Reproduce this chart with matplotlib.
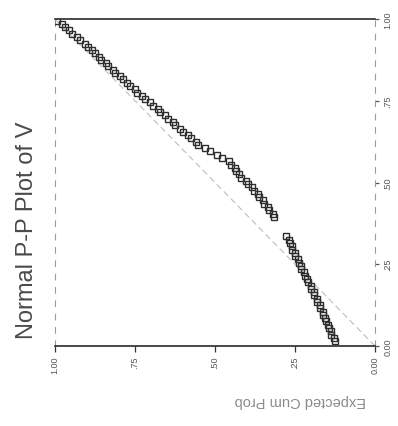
import matplotlib
matplotlib.use("Agg")
import matplotlib.pyplot as plt

plt.rcParams['font.family'] = ['Liberation Sans', 'DejaVu Sans']

# Normal P-P plot of V, drawn turned a quarter turn (Expected along the bottom, Observed on the right)
observed = [
    0.995, 0.985, 0.975, 0.965, 0.955, 0.945, 0.935, 0.925,
    0.915, 0.905, 0.895, 0.885, 0.875, 0.865, 0.855, 0.845, 0.835, 0.825, 0.815, 0.805,
    0.795, 0.785, 0.775, 0.765, 0.755, 0.745, 0.735, 0.725, 0.715, 0.705, 0.695, 0.685,
    0.675, 0.665, 0.655, 0.645, 0.635, 0.625, 0.615,
    0.605, 0.595, 0.585, 0.575, 0.565,
    0.555, 0.545, 0.535, 0.525,
    0.515, 0.505, 0.495, 0.485,
    0.475, 0.465, 0.455, 0.445, 0.435, 0.425, 0.415, 0.405, 0.395,
    0.336, 0.325, 0.315, 0.305, 0.295, 0.285, 0.275, 0.265, 0.255, 0.245, 0.235,
    0.225, 0.215, 0.205, 0.195, 0.185, 0.175,
    0.165, 0.155, 0.145, 0.135, 0.125, 0.115, 0.105, 0.095, 0.085, 0.075, 0.065,
    0.055, 0.045, 0.035, 0.025, 0.015,
]
expected = [
    0.994, 0.979, 0.970, 0.955, 0.946, 0.930, 0.921, 0.905,
    0.898, 0.883, 0.876, 0.862, 0.855, 0.840, 0.833, 0.818, 0.811, 0.796, 0.789, 0.774,
    0.767, 0.751, 0.743, 0.727, 0.719, 0.703, 0.695, 0.679, 0.671, 0.656, 0.648, 0.632,
    0.624, 0.608, 0.600, 0.584, 0.576, 0.560, 0.553,
    0.532, 0.516, 0.493, 0.478, 0.455,
    0.449, 0.438, 0.435, 0.424,
    0.419, 0.404, 0.398, 0.384,
    0.379, 0.367, 0.363, 0.351, 0.347, 0.335, 0.331, 0.319, 0.315,
    0.277, 0.268, 0.267, 0.259, 0.258, 0.249, 0.249, 0.240, 0.239, 0.230, 0.230,
    0.221, 0.220, 0.211, 0.210, 0.201, 0.200,
    0.191, 0.190, 0.182, 0.181, 0.173, 0.172, 0.164, 0.163, 0.155, 0.154, 0.146,
    0.145, 0.137, 0.136, 0.128, 0.125,
]

tick_values = [1.0, 0.75, 0.5, 0.25, 0.0]
tick_labels = ["1.00", ".75", ".50", ".25", "0.00"]

W, H = 398, 427
fig = plt.figure(figsize=(W / 100, H / 100), dpi=100)
ax = fig.add_axes([55 / W, 80 / H, 320 / W, 327 / H])

ax.set_xlim(1.0, 0.0)
ax.set_ylim(0.0, 1.0)

# diagonal reference line
ax.plot([0, 1], [0, 1], color="#c4c4c4", lw=0.9, ls=(0, (5, 3)), zorder=1)

ax.plot(expected, observed, ls="none", marker="s", markersize=4.6,
        mfc="none", mec="#2e2e2e", mew=1.0, zorder=3)

# frame: solid along top/bottom, broken faint along the sides
for side in ("top", "bottom"):
    ax.spines[side].set_color("#2a2a2a")
    ax.spines[side].set_linewidth(1.2)
for side in ("left", "right"):
    ax.spines[side].set_color("#9a9a9a")
    ax.spines[side].set_linewidth(0.8)
    ax.spines[side].set_linestyle((0, (5, 7)))

ax.set_xticks(tick_values)
ax.set_xticklabels(tick_labels)
ax.yaxis.tick_right()
ax.set_yticks(tick_values)
ax.set_yticklabels(tick_labels)
ax.tick_params(axis="x", direction="out", length=4, width=0.9, color="#333333",
               labelsize=6.5, labelcolor="#555555", pad=3)
ax.tick_params(axis="y", direction="out", length=3, width=0.9, color="#555555",
               labelsize=6.5, labelcolor="#555555", pad=3)
for lab in ax.get_xticklabels():
    lab.set_rotation(90)
    lab.set_va("top")
    lab.set_ha("center")
for lab in ax.get_yticklabels():
    lab.set_rotation(90)
    lab.set_va("center")
    lab.set_ha("left")

fig.text(27 / W, 1 - 230 / H, "Normal P-P Plot of V", rotation=90,
         ha="center", va="center", fontsize=17, color="#4a4a4a")
fig.text(300 / W, 1 - 401 / H, "Expected Cum Prob", rotation=180,
         ha="center", va="center", fontsize=10.5, color="#8a8a8a")

fig.savefig("out.png", dpi=100, facecolor="white")
